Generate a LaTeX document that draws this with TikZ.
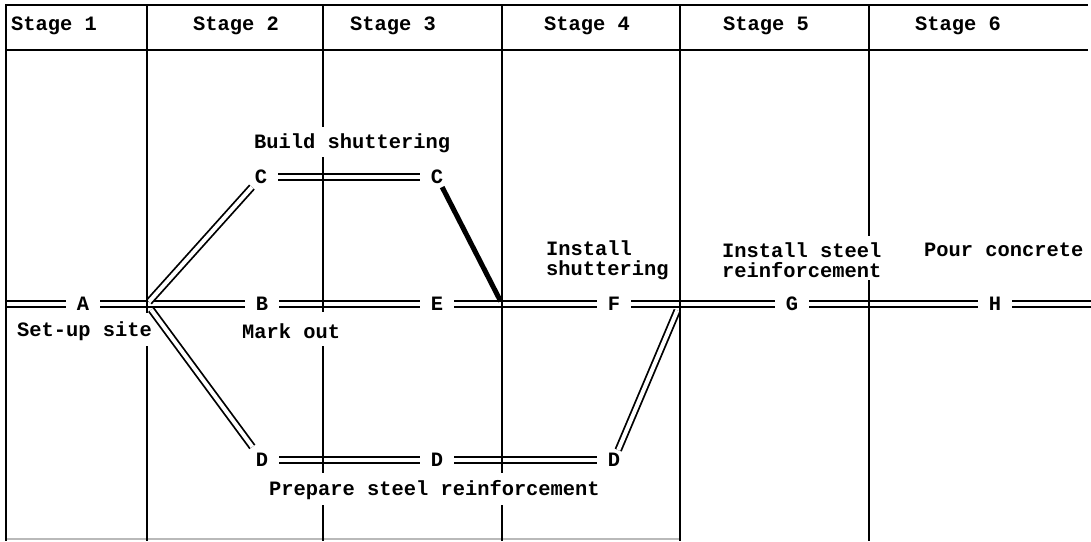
\documentclass[tikz,border=0pt]{standalone}
\usepackage{fontspec}
\newfontfamily\tw{Liberation Mono}
\begin{document}
\begin{tikzpicture}[x=1pt,y=-1pt,
  lbl/.style={font={\tw\bfseries\fontsize{20.4pt}{20pt}\selectfont}, inner sep=0pt},
  ev/.style={lbl, inner xsep=11pt, inner ysep=3pt},
  dbl/.style={double, double distance=4pt, line width=1.8pt},
  crit/.style={line width=5pt},
  frame/.style={line width=2.4pt},
  hline/.style={line width=1.8pt}]
\useasboundingbox (0,0) rectangle (1091,541);

% events
\node[ev] (A) at (83,304) {A};
\node[ev] (B) at (262,304) {B};
\node[ev] (E) at (437,304) {E};
\node[ev] (F) at (614,304) {F};
\node[ev] (G) at (792,304) {G};
\node[ev] (H) at (995,304) {H};
\node[ev] (C1) at (261,177) {C};
\node[ev] (C2) at (437,177) {C};
\node[ev] (D1) at (262,460) {D};
\node[ev] (D2) at (437,460) {D};
\node[ev] (D3) at (614,460) {D};
\coordinate (J1) at (147,304);
\coordinate (J2) at (502,304);
\coordinate (J3) at (680,304);
\coordinate (Lin) at (7,304);
\coordinate (Rout) at (1091,304);

% activities
\draw[dbl] (Lin) -- (A);
\draw[dbl] (A) -- (B);
\draw[dbl] (B) -- (E);
\draw[dbl] (E) -- (F);
\draw[dbl] (F) -- (G);
\draw[dbl] (G) -- (H);
\draw[dbl] (H) -- (Rout);
\draw[dbl] (C1) -- (C2);
\draw[dbl] (D1) -- (D2);
\draw[dbl] (D2) -- (D3);
\draw[dbl, shorten <=3pt] (J1) -- (C1);
\draw[dbl, shorten <=7pt, shorten >=4pt] (J1) -- (D1);
\draw[dbl, shorten >=7pt] (D3) -- (J3);
\draw[crit, shorten >=3pt] (C2) -- (J2);

% frame
\draw[hline] (5,5) -- (1088,5);
\draw[hline] (5,50) -- (1088,50);
\draw[gray!55, line width=1.5pt] (5,539) -- (680,539);
\draw[frame] (6,4) -- (6,541);
\draw[frame] (147,4) -- (147,313) (147,346) -- (147,541);
\draw[frame] (323,4) -- (323,127) (323,157) -- (323,312) (323,346) -- (323,473) (323,505) -- (323,541);
\draw[frame] (502,4) -- (502,473) (502,505) -- (502,541);
\draw[frame] (680,4) -- (680,541);
\draw[frame] (869,4) -- (869,236) (869,280) -- (869,541);

% headers
\node[lbl, anchor=west] (s1) at (11,26) {Stage 1};
\node[lbl, anchor=west] (s2) at (193,26) {Stage 2};
\node[lbl, anchor=west] (s3) at (350,26) {Stage 3};
\node[lbl, anchor=west] (s4) at (544,26) {Stage 4};
\node[lbl, anchor=west] (s5) at (723,26) {Stage 5};
\node[lbl, anchor=west] (s6) at (915,26) {Stage 6};

% activity labels
\node[lbl, anchor=west] (su) at (17,331) {Set-up site};
\node[lbl, anchor=west] (mo) at (242,331) {Mark out};
\node[lbl, anchor=west] (bs) at (254,143) {Build shuttering};
\node[lbl, anchor=west, align=left] (is) at (546,260) {Install\\shuttering};
\node[lbl, anchor=west, align=left] (isr) at (722,260) {Install steel\\reinforcement};
\node[lbl, anchor=west] (pc) at (924,250) {Pour concrete};
\node[lbl, anchor=west] (ps) at (269,490) {Prepare steel reinforcement};
\end{tikzpicture}
\end{document}
